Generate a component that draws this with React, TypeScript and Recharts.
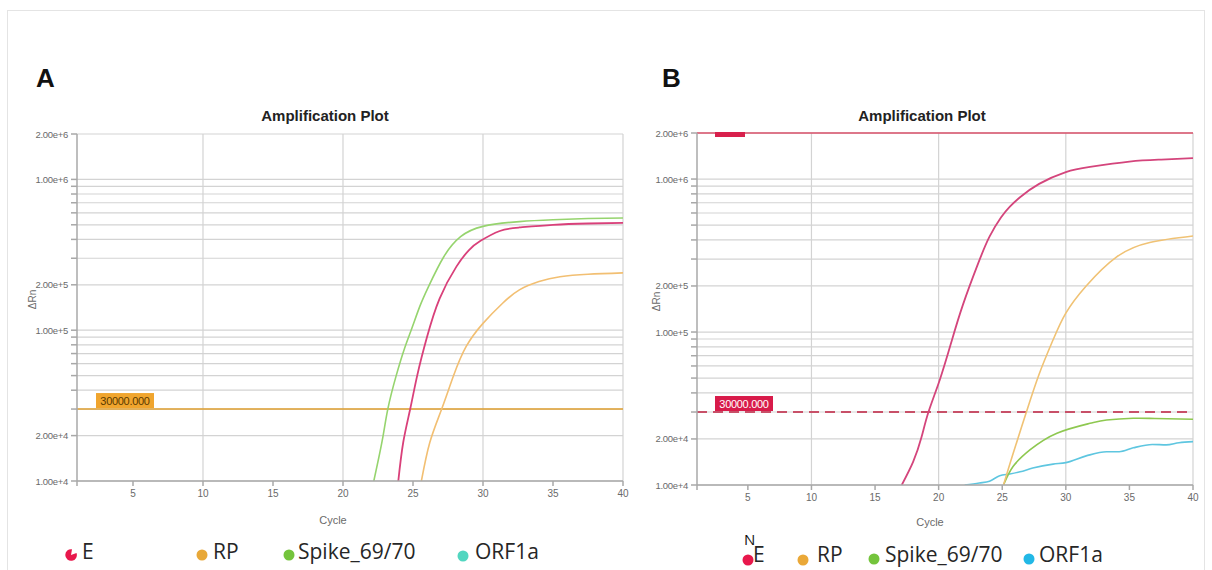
import React from 'react';
import { LineChart, Line, XAxis, YAxis, CartesianGrid, ReferenceLine } from 'recharts';

// ---------- axis ticks ----------
const yGridTicks = [
  1e4, 2e4, 3e4, 4e4, 5e4, 6e4, 7e4, 8e4, 9e4,
  1e5, 2e5, 3e5, 4e5, 5e5, 6e5, 7e5, 8e5, 9e5,
  1e6, 2e6,
];
const yLabelTicks = [1e4, 2e4, 1e5, 2e5, 1e6, 2e6];
const xTicks = [1, 5, 10, 15, 20, 25, 30, 35, 40];
const xGridCycles = [10, 20, 30, 40];
const thresholdValue = 30000;
const thresholdText = '30000.000';
const topLineValue = 2e6;

// ---------- panel A ----------
const aECycles = [23.95, 24.3, 24.8, 25.3, 26.0, 26.9, 28.1, 29.0, 29.8, 31.2, 32.6, 35, 37.5, 40];
const aEValues = [1.0e4, 1.8e4, 3.0e4, 5.0e4, 9.0e4, 1.62e5, 2.64e5, 3.4e5, 3.9e5, 4.55e5, 4.8e5, 5.0e5, 5.1e5, 5.15e5];
const aSpikeCycles = [22.2, 22.8, 23.2, 23.8, 24.4, 24.9, 25.5, 26.1, 27.2, 28.4, 30.0, 32.6, 35, 37.5, 40];
const aSpikeValues = [1.0e4, 1.85e4, 3.0e4, 5.0e4, 7.6e4, 1.02e5, 1.45e5, 1.94e5, 3.07e5, 4.17e5, 4.88e5, 5.25e5, 5.4e5, 5.5e5, 5.55e5];
const aRPCycles = [25.6, 26.2, 27.05, 27.9, 28.8, 30.0, 31.4, 32.6, 34, 35.5, 37.5, 40];
const aRPValues = [1.0e4, 1.8e4, 3.0e4, 5.0e4, 7.8e4, 1.11e5, 1.51e5, 1.85e5, 2.1e5, 2.26e5, 2.35e5, 2.4e5];

// ---------- panel B ----------
const bECycles = [17.1, 18.0, 18.65, 19.2, 20.1, 21.0, 21.9, 23.1, 24.0, 24.9, 25.6, 26.4, 27.9, 30.0, 31.9, 35, 37.5, 40];
const bEValues = [1.0e4, 1.42e4, 2.05e4, 3.0e4, 4.9e4, 8.6e4, 1.5e5, 2.8e5, 4.2e5, 5.6e5, 6.6e5, 7.6e5, 9.3e5, 1.11e6, 1.2e6, 1.3e6, 1.34e6, 1.37e6];
const bRPCycles = [25.1, 25.85, 26.9, 27.9, 29.0, 30.0, 31.6, 34.0, 36.6, 40];
const bRPValues = [1.0e4, 1.6e4, 3.0e4, 5.3e4, 8.9e4, 1.33e5, 2.0e5, 3.1e5, 3.85e5, 4.24e5];
const bSpikeCycles = [25.1, 25.85, 27.2, 29.3, 31.9, 33.2, 35.3, 37, 40];
const bSpikeValues = [1.0e4, 1.32e4, 1.7e4, 2.18e4, 2.53e4, 2.66e4, 2.73e4, 2.72e4, 2.69e4];
const bORFCycles = [22.05, 23.2, 24.0, 24.8, 25.6, 26.4, 27.4, 29.0, 30.0, 31.6, 33.2, 34.2, 35.3, 36.8, 37.9, 38.9, 40];
const bORFValues = [1.0e4, 1.03e4, 1.06e4, 1.15e4, 1.18e4, 1.22e4, 1.29e4, 1.37e4, 1.4e4, 1.55e4, 1.65e4, 1.65e4, 1.75e4, 1.84e4, 1.83e4, 1.89e4, 1.92e4];

const legendNames = ['E', 'RP', 'Spike_69/70', 'ORF1a'];

const zip = (xs: number[], ys: number[]) => xs.map((x, i) => ({ x, y: ys[i] }));

const fmtExp = (v: number) => v.toExponential(2);

const YTick = (props: any) => {
  const { x, y, payload } = props;
  if (!yLabelTicks.includes(payload.value)) return <g />;
  return (
    <text x={x} y={y} dy={3.5} textAnchor="end" fontSize={9.5} fill="#6a6a6a" fontFamily="Liberation Sans, Arial, sans-serif" letterSpacing={-0.3}>
      {fmtExp(payload.value)}
    </text>
  );
};

const XTick = (props: any) => {
  const { x, y, payload } = props;
  if (payload.value === 1) return <g />;
  return (
    <text x={x} y={y} dy={9} textAnchor="middle" fontSize={10} fill="#6a6a6a" fontFamily="Liberation Sans, Arial, sans-serif">
      {payload.value}
    </text>
  );
};

const makeThresholdLabel = (bg: string, fg: string, dx: number) => (p: any) => {
  const vb = p.viewBox || {};
  const x = vb.x ?? 0;
  const y = vb.y ?? 0;
  return (
    <g>
      <rect x={x + dx} y={y - 16} width={58} height={15} fill={bg} />
      <text x={x + dx + 29} y={y - 4.5} textAnchor="middle" fontSize={11} fill={fg} fontFamily="Liberation Sans, Arial, sans-serif" letterSpacing={-0.3}>
        {thresholdText}
      </text>
    </g>
  );
};

const topBarLabel = (p: any) => {
  const vb = p.viewBox || {};
  const x = vb.x ?? 0;
  const y = vb.y ?? 0;
  return <rect x={x + 18} y={y - 1} width={30} height={5} fill="#d8204c" />;
};

const gridColor = '#d3d3d3';
const axisColor = '#a8a8a8';

const Panel = (props: {
  width: number; height: number; margin: any; children: any;
}) => (
  <LineChart width={props.width} height={props.height} margin={props.margin}>
    <CartesianGrid vertical={false} stroke={gridColor} strokeWidth={1.2} />
    <XAxis
      type="number"
      dataKey="x"
      domain={[1, 40]}
      ticks={xTicks}
      allowDataOverflow
      height={30}
      tick={<XTick />}
      tickSize={5}
      tickMargin={2}
      stroke={axisColor}
      strokeWidth={1.5}
      interval={0}
    />
    <YAxis
      type="number"
      dataKey="y"
      scale="log"
      domain={[1e4, 2e6]}
      allowDataOverflow
      ticks={yGridTicks}
      width={60}
      tick={<YTick />}
      tickSize={6}
      tickMargin={3}
      stroke={axisColor}
      strokeWidth={1.5}
      interval={0}
    />
    {xGridCycles.map((c) => (
      <ReferenceLine key={c} x={c} stroke={gridColor} strokeWidth={1.2} />
    ))}
    {props.children}
  </LineChart>
);

const LegendIcon = ({ color, pac }: { color: string; pac?: boolean }) => (
  <svg width={12} height={12} style={{ display: 'inline-block', verticalAlign: 'middle' }}>
    {pac ? (
      <path d="M6 6 L11.5 4 A5.8 5.8 0 1 1 7 0.3 Z" fill={color} />
    ) : (
      <circle cx={6} cy={6} r={5.5} fill={color} />
    )}
  </svg>
);

const legendFont: React.CSSProperties = {
  position: 'absolute',
  fontFamily: '"Open Sans", "Noto Sans", sans-serif',
  fontSize: 21,
  color: '#262626',
  lineHeight: '24px',
  whiteSpace: 'nowrap',
};

const abs = (left: number, top: number, extra: React.CSSProperties = {}): React.CSSProperties => ({
  position: 'absolute', left, top, ...extra,
});

const titleStyle: React.CSSProperties = {
  fontFamily: '"Liberation Sans", Arial, sans-serif',
  fontWeight: 'bold',
  fontSize: 15,
  color: '#222',
  width: 200,
  textAlign: 'center',
  whiteSpace: 'nowrap',
};

const panelLetter: React.CSSProperties = {
  fontFamily: '"Liberation Sans", Arial, sans-serif',
  fontWeight: 'bold',
  fontSize: 26,
  color: '#111',
  lineHeight: '28px',
};

const smallLabel: React.CSSProperties = {
  fontFamily: '"Liberation Sans", Arial, sans-serif',
  fontSize: 11,
  color: '#6a6a6a',
  whiteSpace: 'nowrap',
};

export default function App() {
  const colE_A = '#d9407a';
  const colSpike_A = '#96d46e';
  const colRP_A = '#f2bf72';
  const colE_B = '#d4457c';
  const colRP_B = '#f0c274';
  const colSpike_B = '#8ec850';
  const colORF_B = '#5ec6e0';

  return (
    <div style={{ position: 'absolute', left: 0, top: 0, width: 1212, height: 570, background: '#fff', overflow: 'hidden' }}>
      <div style={abs(7, 10, { width: 1198, height: 580, border: '1px solid #e4e4e4', boxSizing: 'border-box' })} />

      {/* Panel A chart */}
      <div style={abs(0, 0)}>
        <Panel width={640} height={570} margin={{ top: 134, right: 17, bottom: 59, left: 17 }}>
          <ReferenceLine y={thresholdValue} stroke="#e0a030" strokeWidth={1.6} label={makeThresholdLabel('#f0a52e', '#5a3a00', 19)} />
          <Line data={zip(aRPCycles, aRPValues)} dataKey="y" type="natural" stroke={colRP_A} strokeWidth={1.6} dot={false} isAnimationActive={false} />
          <Line data={zip(aECycles, aEValues)} dataKey="y" type="natural" stroke={colE_A} strokeWidth={1.8} dot={false} isAnimationActive={false} />
          <Line data={zip(aSpikeCycles, aSpikeValues)} dataKey="y" type="natural" stroke={colSpike_A} strokeWidth={1.6} dot={false} isAnimationActive={false} />
        </Panel>
      </div>

      {/* Panel B chart */}
      <div style={abs(600, 0)}>
        <Panel width={612} height={570} margin={{ top: 133, right: 19, bottom: 55, left: 37 }}>
          <ReferenceLine y={topLineValue} stroke="#d8506a" strokeWidth={1.3} label={topBarLabel} />
          <ReferenceLine y={thresholdValue} stroke="#c85068" strokeWidth={2} strokeDasharray="10 6" label={makeThresholdLabel('#d81b4a', '#ffffff', 18)} />
          <Line data={zip(bORFCycles, bORFValues)} dataKey="y" type="monotone" stroke={colORF_B} strokeWidth={1.6} dot={false} isAnimationActive={false} />
          <Line data={zip(bSpikeCycles, bSpikeValues)} dataKey="y" type="natural" stroke={colSpike_B} strokeWidth={1.6} dot={false} isAnimationActive={false} />
          <Line data={zip(bRPCycles, bRPValues)} dataKey="y" type="natural" stroke={colRP_B} strokeWidth={1.6} dot={false} isAnimationActive={false} />
          <Line data={zip(bECycles, bEValues)} dataKey="y" type="natural" stroke={colE_B} strokeWidth={1.8} dot={false} isAnimationActive={false} />
        </Panel>
      </div>

      {/* Panel letters */}
      <div style={abs(36, 64, panelLetter)}>A</div>
      <div style={abs(662, 64, panelLetter)}>B</div>

      {/* Titles */}
      <div style={abs(225, 107, titleStyle)}>Amplification Plot</div>
      <div style={abs(822, 107, titleStyle)}>Amplification Plot</div>

      {/* Y labels */}
      <div style={abs(12, 294, { ...smallLabel, transform: 'rotate(-90deg)', transformOrigin: 'center', width: 40, textAlign: 'center', fontSize: 10 })}>ΔRn</div>
      <div style={abs(636, 296, { ...smallLabel, transform: 'rotate(-90deg)', transformOrigin: 'center', width: 40, textAlign: 'center', fontSize: 10 })}>ΔRn</div>

      {/* X labels */}
      <div style={abs(313, 514, { ...smallLabel, width: 40, textAlign: 'center' })}>Cycle</div>
      <div style={abs(910, 516, { ...smallLabel, width: 40, textAlign: 'center' })}>Cycle</div>

      {/* Legend A */}
      <div style={abs(65, 545)}><LegendIcon color="#e8184c" pac /></div>
      <div style={abs(82, 539, legendFont)}>{legendNames[0]}</div>
      <div style={abs(196, 545)}><LegendIcon color="#e8a838" /></div>
      <div style={abs(213, 539, legendFont)}>{legendNames[1]}</div>
      <div style={abs(283, 545)}><LegendIcon color="#74c43c" /></div>
      <div style={abs(298, 539, legendFont)}>{legendNames[2]}</div>
      <div style={abs(457, 546)}><LegendIcon color="#52d6c0" /></div>
      <div style={abs(475, 539, legendFont)}>{legendNames[3]}</div>

      {/* Legend B */}
      <div style={abs(742, 550)}><LegendIcon color="#e8184c" /></div>
      <div style={abs(744, 530, { ...legendFont, fontSize: 15, lineHeight: '18px', color: '#111' })}>N</div>
      <div style={abs(753, 542, legendFont)}>{legendNames[0]}</div>
      <div style={abs(797, 550)}><LegendIcon color="#eaa838" /></div>
      <div style={abs(817, 542, legendFont)}>{legendNames[1]}</div>
      <div style={abs(868, 549)}><LegendIcon color="#74c43c" /></div>
      <div style={abs(885, 542, legendFont)}>{legendNames[2]}</div>
      <div style={abs(1023, 549)}><LegendIcon color="#22b8e6" /></div>
      <div style={abs(1039, 542, legendFont)}>{legendNames[3]}</div>
    </div>
  );
}
